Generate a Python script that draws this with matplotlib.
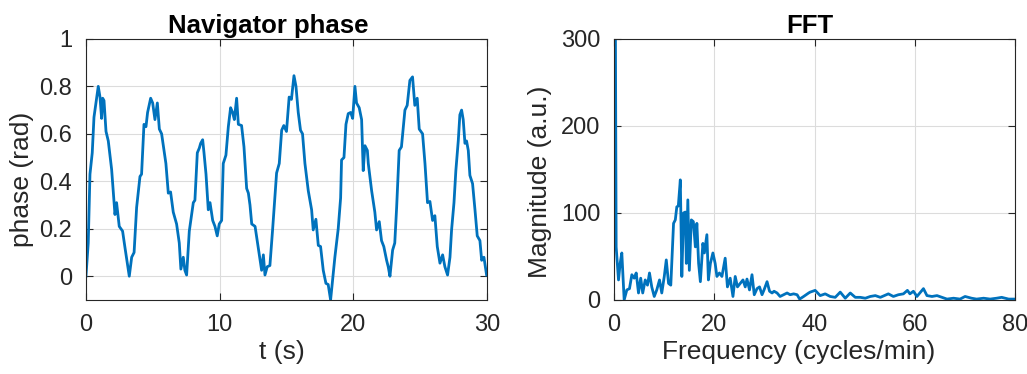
import matplotlib.pyplot as plt

plt.rcParams['font.family'] = ['Liberation Sans', 'DejaVu Sans']

# navigator phase trace
t = [0.0, 0.17, 0.3, 0.47, 0.6, 0.92, 1.05, 1.17, 1.25, 1.35, 1.5, 1.67, 1.92,
     2.17, 2.29, 2.49, 2.74, 2.92, 3.24, 3.42, 3.6, 3.79, 4.04, 4.16, 4.34,
     4.49, 4.61, 4.84, 4.99, 5.16, 5.34, 5.49, 5.66, 5.98, 6.16, 6.33, 6.53,
     6.78, 6.98, 7.1, 7.28, 7.4, 7.53, 7.73, 8.03, 8.15, 8.33, 8.48, 8.58,
     8.73, 8.83, 8.98, 9.15, 9.28, 9.48, 9.65, 9.82, 9.97, 10.15, 10.27,
     10.47, 10.65, 10.82, 10.97, 11.1, 11.27, 11.4, 11.64, 11.82, 12.02,
     12.15, 12.27, 12.4, 12.65, 12.89, 13.14, 13.27, 13.39, 13.56, 13.76,
     13.96, 14.26, 14.46, 14.64, 14.8, 15.0, 15.2, 15.37, 15.56, 15.71,
     15.88, 16.05, 16.2, 16.38, 16.63, 16.88, 17.0, 17.2, 17.38, 17.55,
     17.75, 17.95, 18.12, 18.3, 18.45, 18.62, 18.87, 19.05, 19.12, 19.3,
     19.45, 19.62, 19.8, 19.95, 20.12, 20.24, 20.44, 20.62, 20.74, 20.87,
     21.05, 21.12, 21.37, 21.61, 21.74, 21.94, 22.11, 22.28, 22.49, 22.61,
     22.74, 22.94, 23.1, 23.24, 23.43, 23.6, 23.86, 24.03, 24.23, 24.43,
     24.6, 24.78, 24.93, 25.18, 25.36, 25.55, 25.73, 25.93, 26.1, 26.28,
     26.48, 26.68, 26.85, 27.05, 27.23, 27.35, 27.53, 27.67, 27.85, 27.97,
     28.1, 28.22, 28.35, 28.47, 28.6, 28.72, 28.92, 29.1, 29.27, 29.47,
     29.6, 29.77, 29.97]
phase = [0.0, 0.14, 0.43, 0.52, 0.67, 0.80, 0.755, 0.665, 0.75, 0.74, 0.61,
         0.57, 0.45, 0.26, 0.31, 0.21, 0.19, 0.12, 0.0, 0.08, 0.1, 0.29, 0.42,
         0.43, 0.64, 0.63, 0.69, 0.75, 0.73, 0.66, 0.73, 0.62, 0.6, 0.475,
         0.35, 0.355, 0.27, 0.22, 0.14, 0.03, 0.08, 0.025, 0.005, 0.19, 0.31,
         0.32, 0.52, 0.54, 0.56, 0.575, 0.52, 0.43, 0.28, 0.31, 0.235, 0.21,
         0.17, 0.22, 0.235, 0.475, 0.51, 0.63, 0.71, 0.69, 0.66, 0.75, 0.64,
         0.635, 0.545, 0.37, 0.35, 0.3, 0.22, 0.21, 0.12, 0.025, 0.09, 0.005,
         0.04, 0.045, 0.195, 0.435, 0.475, 0.615, 0.635, 0.61, 0.755, 0.745,
         0.845, 0.80, 0.69, 0.615, 0.6, 0.475, 0.36, 0.28, 0.195, 0.24, 0.13,
         0.125, 0.025, -0.03, -0.035, -0.1, -0.015, 0.08, 0.2, 0.33, 0.49,
         0.5, 0.64, 0.685, 0.69, 0.665, 0.80, 0.73, 0.71, 0.66, 0.445, 0.55,
         0.53, 0.475, 0.36, 0.27, 0.195, 0.23, 0.15, 0.125, 0.067, 0.04, 0.0,
         0.11, 0.14, 0.29, 0.53, 0.545, 0.70, 0.72, 0.825, 0.84, 0.72, 0.75,
         0.62, 0.6, 0.475, 0.31, 0.315, 0.235, 0.255, 0.125, 0.055, 0.09,
         0.04, 0.005, 0.08, 0.195, 0.31, 0.445, 0.57, 0.68, 0.70, 0.66, 0.56,
         0.57, 0.53, 0.425, 0.39, 0.28, 0.17, 0.15, 0.067, 0.08, 0.005]

# FFT magnitude
freq = [0.0, 0.2, 0.4, 0.87, 1.2, 1.53, 2.0, 2.53, 3.06, 3.53, 4.0, 4.4, 4.86,
        5.3, 5.7, 6.2, 6.65, 7.05, 7.5, 8.0, 8.5, 9.05, 9.5, 10.0, 10.4,
        10.85, 11.3, 11.85, 12.2, 12.5, 12.8, 13.2, 13.5, 13.85, 14.2, 14.4,
        14.7, 15.0, 15.4, 15.8, 16.2, 16.5, 16.85, 17.2, 17.7, 18.0, 18.5,
        18.8, 19.2, 19.7, 20.15, 20.5, 21.0, 21.5, 22.15, 22.6, 23.15, 23.7,
        24.15, 24.6, 25.15, 25.7, 26.15, 26.5, 27.0, 27.5, 27.95, 28.5, 29.0,
        29.5, 29.9, 30.5, 31.0, 31.5, 31.9, 32.5, 33.1, 33.8, 34.5, 35.1,
        35.8, 36.5, 37.0, 37.8, 38.8, 39.1, 40.1, 41.1, 42.1, 43.1, 44.1,
        45.1, 46.1, 47.1, 48.1, 49.1, 50.1, 51.1, 52.1, 53.1, 54.7, 55.7,
        56.7, 57.7, 58.5, 59.0, 59.7, 60.4, 61.7, 62.4, 63.4, 64.4, 65.4,
        66.4, 67.7, 69.0, 70.0, 71.3, 72.3, 73.7, 75.0, 76.3, 77.3, 78.7, 80.0]
mag = [900, 400, 61, 23, 42, 54, 0, 11.5, 13, 29, 25, 31, 8, 25, 8, 23, 17,
       31, 15, 4, 11.5, 23, 8, 27, 46, 19, 17, 88, 92, 107, 108, 138, 27, 100,
       101, 42, 115, 34, 92, 90, 61, 88, 42, 21, 65, 54, 75, 23, 42, 54, 42,
       27, 31, 27, 48, 15, 25, 4, 27, 15, 19, 23, 15, 24, 11.5, 29, 6, 13, 15,
       6, 11.5, 21, 10, 8, 10, 8, 4, 6, 8, 6, 7, 6, 1, 4, 8, 9, 11, 5, 7, 4,
       3, 9, 2, 8, 3, 3, 2, 4, 5, 3, 7, 4, 6, 7, 11, 7, 10, 4, 13, 5, 4, 5, 3,
       1, 2, 1, 4, 2, 1, 2, 1, 2, 3, 1, 1]

line_color = '#0072BD'
text_color = '#262626'
tick_fs = 17
label_fs = 19
title_fs = 18.5


def style_axes(ax):
    ax.grid(True, color='#dcdcdc', linewidth=0.8)
    ax.set_axisbelow(True)
    ax.tick_params(direction='in', top=True, right=True, labelsize=tick_fs,
                   colors=text_color, length=5, width=0.8)
    ax.tick_params(axis='x', pad=10)
    ax.tick_params(axis='y', pad=10)
    for s in ax.spines.values():
        s.set_color(text_color)
        s.set_linewidth(0.8)


fig = plt.figure(figsize=(10.27, 3.74), dpi=100)

ax1 = fig.add_axes([0.0837, 0.198, 0.3905, 0.698])
ax1.plot(t, phase, color=line_color, linewidth=2)
ax1.set_xlim(0, 30)
ax1.set_ylim(-0.1, 1)
ax1.set_xticks([0, 10, 20, 30])
ax1.set_yticks([0, 0.2, 0.4, 0.6, 0.8, 1])
ax1.set_yticklabels(['0', '0.2', '0.4', '0.6', '0.8', '1'])
ax1.set_xlabel('t (s)', fontsize=label_fs, color=text_color)
ax1.set_ylabel('phase (rad)', fontsize=label_fs, color=text_color)
ax1.xaxis.set_label_coords(0.488, -0.155)
ax1.yaxis.set_label_coords(-0.13, 0.46)
ax1.set_title('Navigator phase', fontsize=title_fs, fontweight='bold',
              color='black', pad=4, x=0.455)
style_axes(ax1)

ax2 = fig.add_axes([0.598, 0.198, 0.3905, 0.698])
ax2.plot(freq, mag, color=line_color, linewidth=2)
ax2.set_xlim(0, 80)
ax2.set_ylim(0, 300)
ax2.set_xticks([0, 20, 40, 60, 80])
ax2.set_yticks([0, 100, 200, 300])
ax2.set_xlabel('Frequency (cycles/min)', fontsize=label_fs, color=text_color)
ax2.set_ylabel('Magnitude (a.u.)', fontsize=label_fs, color=text_color)
ax2.xaxis.set_label_coords(0.459, -0.155)
ax2.yaxis.set_label_coords(-0.155, 0.452)
ax2.set_title('FFT', fontsize=title_fs, fontweight='bold', color='black',
              pad=4, x=0.489)
style_axes(ax2)

fig.savefig('out.png', dpi=100)
plt.close(fig)
